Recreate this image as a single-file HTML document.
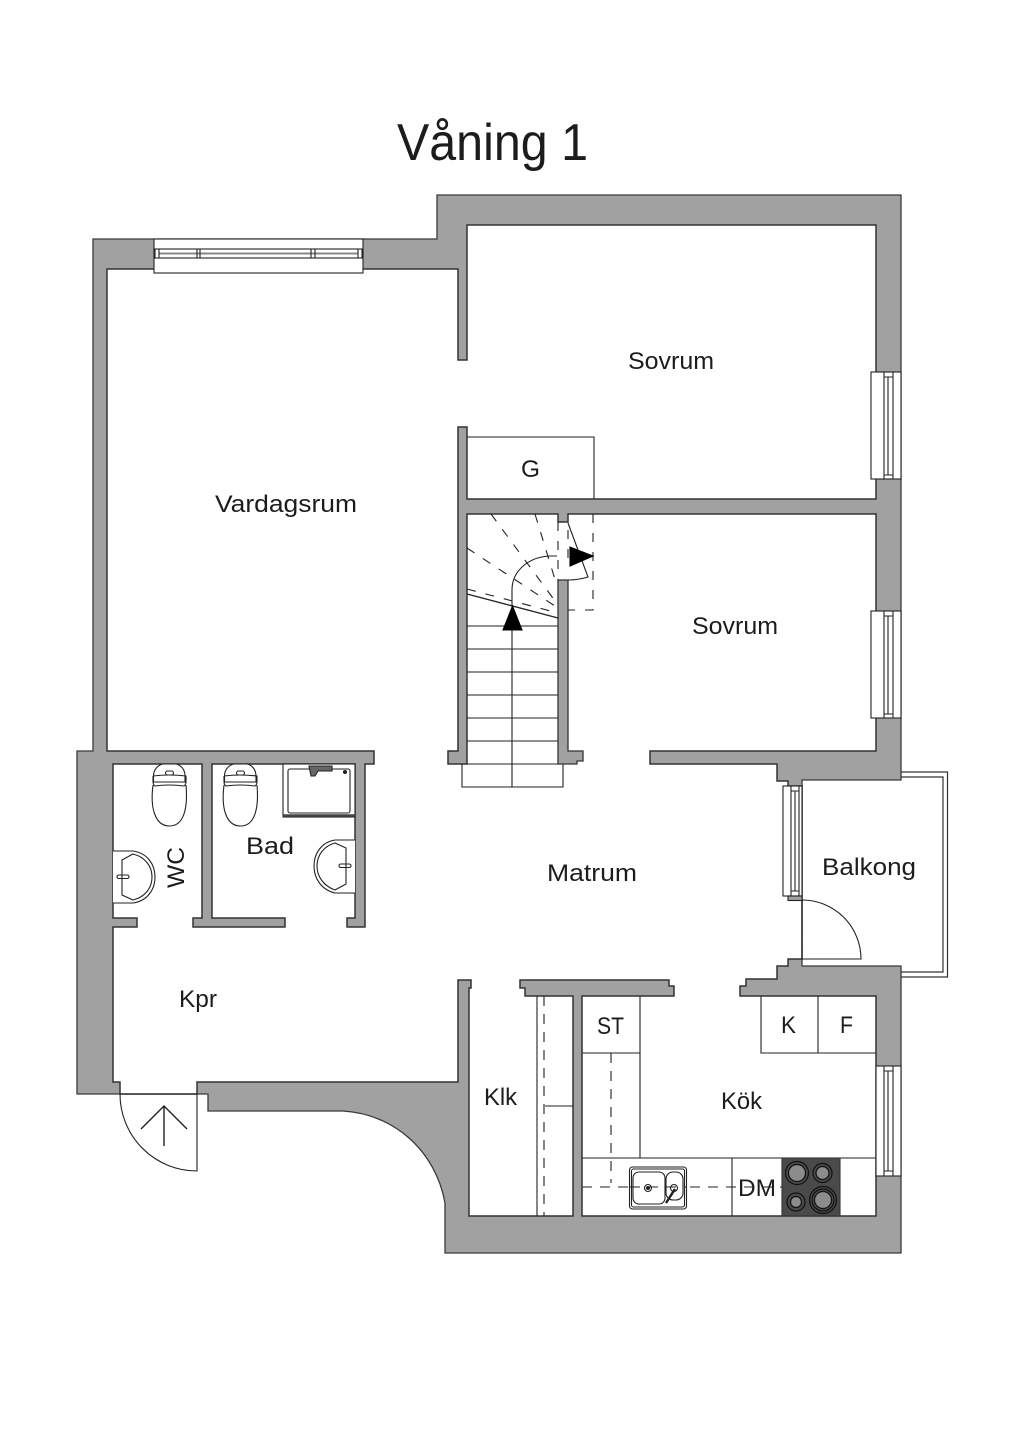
<!DOCTYPE html>
<html><head><meta charset="utf-8"><style>
html,body{margin:0;padding:0;background:#fff}
svg{display:block}
text{font-family:"Liberation Sans",sans-serif;font-size:24px;fill:#1c1c1c}
</style></head><body>
<svg width="1024" height="1448" viewBox="0 0 1024 1448" xmlns="http://www.w3.org/2000/svg">
<rect width="1024" height="1448" fill="#fff"/>
<text x="397" y="160" style="font-size:52px" textLength="191" lengthAdjust="spacingAndGlyphs">Våning 1</text>

<!-- balcony -->
<path d="M901 772H947.500V977H901M901 777H943V972H901" fill="none" stroke="#333" stroke-width="1.2"/>

<!-- outer shell -->
<path d="M93 239H437V195H901V780H802V966H901V1253H445V1203C436 1152 395 1114 343 1111H208V1094H197V1094H120V1094H77V751H93Z" fill="#a1a1a1" stroke="#3a3a3a" stroke-width="1.3"/>

<!-- interior -->
<path d="M107 269H458V360H467V225H876V499H467V427H458V751H448V764H467V514H558V522H568V514H876V751H650V764H777V781H788V786H802V959H788V966H777V979H746V986H740V996H876V1216H582V996H674V986H669V980H520V988H525V996H573V1216H469V988H471V980H458V1082H197V1094H120V1082H113V927H137V918H113V764H202V918H193V927H285V918H212V764H355V918H347V927H365V764H374V751H107Z" fill="#fff" stroke="#333" stroke-width="1.5"/>
<!-- wall island right of stairs -->
<path d="M558 580H568V751H583V761H577V764H558Z" fill="#a1a1a1" stroke="#333" stroke-width="1.3"/>

<g fill="none" stroke="#222" stroke-width="1.1">
<!-- top window -->
<rect x="154" y="239" width="209" height="34" fill="#fff"/>
<rect x="155" y="249" width="207" height="9" fill="#fff"/>
<path d="M159 253.500H358" stroke="#888" stroke-width="2"/>
<path d="M159 249V258M197 249V258M200 249V258M311 249V258M315 249V258M358 249V258"/>

<!-- right windows -->
<rect x="871" y="372" width="30" height="107" fill="#fff"/>
<path d="M884 372V479M893 372V479M884 377H893M884 475H893M888 377V475"/>
<rect x="871" y="611" width="30" height="107" fill="#fff"/>
<path d="M884 611V718M893 611V718M884 616H893M884 714H893M888 616V714"/>
<rect x="876" y="1066" width="25" height="110" fill="#fff"/>
<path d="M884 1066V1176M893 1066V1176M884 1071H893M884 1171H893M888 1071V1171"/>
<!-- balcony window -->
<rect x="783" y="786" width="19" height="110" fill="#fff"/>
<path d="M791 786V896M799 786V896M791 791H799M791 891H799M795 791V891"/>
<rect x="788" y="896" width="14" height="4.500" fill="#a1a1a1"/>
<!-- balcony door -->
<path d="M802 900V959H861A59 59 0 0 0 802 900" stroke="#222"/>

<!-- entry door -->
<path d="M120 1094H197V1171A77 77 0 0 1 120 1094"/>
<path d="M164 1106V1146M141 1129L164 1106L187 1129" stroke-width="1.4"/>

<!-- G -->
<path d="M467 437H594V499"/>

<!-- stairs -->
<path d="M467 626H558M467 649H558M467 672H558M467 695H558M467 718H558M467 741H558M467 764H558M462 764V787H563V764"/>
<path d="M512 787V590C512 570 530 556 552 556H557"/>
<path d="M467 594L558 618" stroke-width="1.4"/>
<path stroke-dasharray="9 10" d="M467 589L558 613M467 548L558 608M491 514L558 605M535 514L557 586M558 522V580M593 514V610H568M568 530V566"/>
<path d="M568 523L588 577Q578 580 568 580"/>
<path d="M503 630H522L512.500 606Z" fill="#000" stroke="#000"/>
<path d="M570 547V566L593 556Z" fill="#000" stroke="#000"/>

<!-- closet Klk -->
<path d="M537 996V1216M545 1106H573"/>
<path stroke-dasharray="10 8" d="M544 996V1216"/>

<!-- kitchen -->
<path d="M582 1053H640M640 996V1158M582 1158H876M732 1158V1216M761 996V1053H876M818 996V1053"/>
<path stroke-dasharray="10 8" d="M611 1053V1183M582 1187H782"/>
<rect x="782" y="1158" width="58" height="58" fill="#4a4a4a" stroke="#333"/>
<g stroke="#111" stroke-width="1.200">
<circle cx="797" cy="1173" r="11.500"/><circle cx="797" cy="1173" r="8.500" fill="#8c8c8c"/>
<circle cx="822.500" cy="1173" r="9.500"/><circle cx="822.500" cy="1173" r="6.500" fill="#8c8c8c"/>
<circle cx="796" cy="1202" r="9"/><circle cx="796" cy="1202" r="5.500" fill="#8c8c8c"/>
<circle cx="823" cy="1200" r="13.500"/><circle cx="823" cy="1200" r="11"/><circle cx="823" cy="1200" r="8.500" fill="#8c8c8c"/>
</g>
<rect x="629.500" y="1167" width="57" height="42" rx="3" fill="#fff"/>
<rect x="631.500" y="1169" width="53" height="38" rx="2"/>
<rect x="633" y="1172" width="32" height="32" rx="6"/>
<rect x="666" y="1172" width="17" height="28" rx="7"/>
<circle cx="648" cy="1188" r="3.500"/><circle cx="648" cy="1188" r="1.500" fill="#222"/>
<circle cx="674" cy="1188" r="3.500"/>
<path d="M675 1189L666 1203" stroke-width="2.500"/>
<path stroke-dasharray="10 8" d="M630 1187H686"/>

<!-- toilets -->
<path d="M153.500 776C153.500 768 160 764 164 764H175C179 764 185 768 185 776V782H153.500Z" fill="#fff"/>
<path d="M153 785C150 808 155 826 169.500 826C184 826 188 808 186 785" fill="#fff"/>
<path d="M153 776V781Q153 785 155 786Q169 784 184 786Q186 785 186 781V776Q169 774 153 776"/>
<rect x="165.500" y="771" width="8" height="4" rx="2"/>
<g transform="translate(71 0)">
<path d="M153.500 776C153.500 768 160 764 164 764H175C179 764 185 768 185 776V782H153.500Z" fill="#fff"/>
<path d="M153 785C150 808 155 826 169.500 826C184 826 188 808 186 785" fill="#fff"/>
<path d="M153 776V781Q153 785 155 786Q169 784 184 786Q186 785 186 781V776Q169 774 153 776"/>
<rect x="165.500" y="771" width="8" height="4" rx="2"/>
</g>

<!-- WC sink -->
<path d="M113 851H133C147 853 155 864 155 877C155 890 147 901 133 903H113" fill="#fff"/>
<path d="M122 860L133 854C145 857 152 866 152 877C152 888 145 897 133 900L122 895Z"/>
<rect x="117" y="875" width="12" height="3.500" rx="1.700"/>
<!-- Bad sink -->
<path d="M355 840H335C322 842 314 853 314 866C314 879 322 890 335 893H355" fill="#fff"/>
<path d="M346 848L335 843C324 846 317 855 317 866C317 877 324 886 335 890L346 884Z"/>
<rect x="339" y="864" width="12" height="3.500" rx="1.700"/>
<!-- shower -->
<rect x="283" y="764" width="72" height="53" fill="#fff"/>
<rect x="288" y="769" width="62" height="44" rx="2"/>
<path d="M283 815.500H355" stroke="#444" stroke-width="2.500"/>
<path d="M309 766H332V771H318L315 776H311Z" fill="#666"/>
<circle cx="345" cy="772" r="1.500" fill="#222"/>
</g>

<text x="215" y="512" textLength="142" lengthAdjust="spacingAndGlyphs">Vardagsrum</text>
<text x="628" y="369" textLength="86" lengthAdjust="spacingAndGlyphs">Sovrum</text>
<text x="692" y="634" textLength="86" lengthAdjust="spacingAndGlyphs">Sovrum</text>
<text x="521" y="477" textLength="19" lengthAdjust="spacingAndGlyphs">G</text>
<text x="246" y="854" textLength="48" lengthAdjust="spacingAndGlyphs">Bad</text>
<text transform="translate(184 888) rotate(-90)" textLength="41" lengthAdjust="spacingAndGlyphs">WC</text>
<text x="547" y="881" textLength="90" lengthAdjust="spacingAndGlyphs">Matrum</text>
<text x="822" y="875" textLength="94" lengthAdjust="spacingAndGlyphs">Balkong</text>
<text x="179" y="1007" textLength="38" lengthAdjust="spacingAndGlyphs">Kpr</text>
<text x="484" y="1105" textLength="33" lengthAdjust="spacingAndGlyphs">Klk</text>
<text x="721" y="1109" textLength="41" lengthAdjust="spacingAndGlyphs">Kök</text>
<text x="597" y="1034" textLength="27" lengthAdjust="spacingAndGlyphs">ST</text>
<text x="781" y="1033" textLength="15" lengthAdjust="spacingAndGlyphs">K</text>
<text x="840" y="1033" textLength="13" lengthAdjust="spacingAndGlyphs">F</text>
<text x="738" y="1196" textLength="38" lengthAdjust="spacingAndGlyphs">DM</text>
</svg>
</body></html>
